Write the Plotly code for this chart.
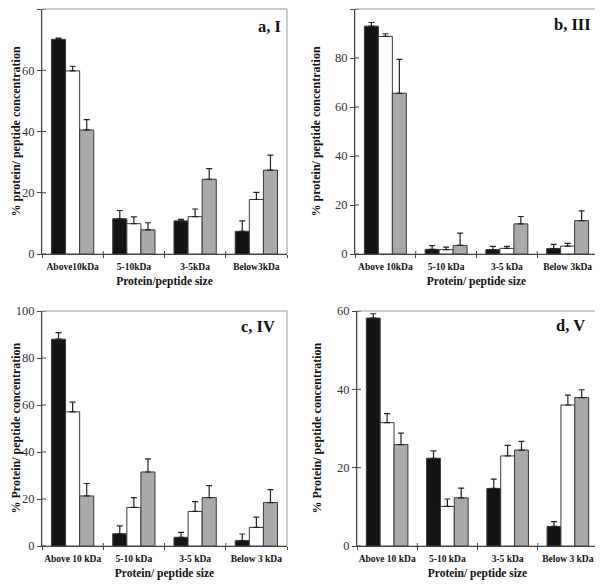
import plotly.graph_objects as go

# ---------------- data ----------------
cats_a = ["Above10kDa", "5-10kDa", "3-5kDa", "Below3kDa"]
cats_b = ["Above 10kDa", "5-10 kDa", "3-5 kDa", "Below 3kDa"]
cats_c = ["Above 10 kDa", "5-10 kDa", "3-5 kDa", "Below 3 kDa"]
cats_d = ["Above 10 kDa", "5-10 kDa", "3-5 kDa", "Below 3 kDa"]

# panel a, I
a_black = [70.1, 11.5, 10.8, 7.4]
a_black_err = [0.4, 2.7, 0.5, 3.4]
a_white = [59.8, 9.9, 12.2, 17.8]
a_white_err = [1.5, 2.2, 2.5, 2.3]
a_gray = [40.5, 7.9, 24.4, 27.4]
a_gray_err = [3.4, 2.3, 3.5, 4.9]

# panel b, III
b_black = [93.0, 1.9, 1.8, 2.2]
b_black_err = [1.5, 1.5, 1.3, 1.7]
b_white = [88.8, 1.8, 2.3, 3.2]
b_white_err = [1.1, 1.0, 0.8, 1.1]
b_gray = [65.6, 3.5, 12.3, 13.6]
b_gray_err = [13.8, 5.0, 3.0, 4.0]

# panel c, IV
c_black = [88.0, 5.2, 3.7, 2.3]
c_black_err = [2.8, 3.4, 2.1, 2.8]
c_white = [57.1, 16.4, 14.7, 7.9]
c_white_err = [4.1, 4.2, 4.2, 4.4]
c_gray = [21.3, 31.5, 20.6, 18.5]
c_gray_err = [5.3, 5.6, 5.1, 5.5]

# panel d, V
d_black = [58.2, 22.4, 14.7, 5.0]
d_black_err = [1.1, 1.9, 2.4, 1.2]
d_white = [31.5, 10.1, 23.0, 36.0]
d_white_err = [2.3, 1.9, 2.7, 2.5]
d_gray = [25.9, 12.3, 24.5, 37.9]
d_gray_err = [2.9, 2.5, 2.2, 2.0]

panel_labels = ["a, I", "b, III", "c, IV", "d, V"]
y_titles = ["% protein/ peptide concentration", "% protein/ peptide concentration",
            "% Protein/ peptide concentration", "% Protein/ peptide concentration"]
x_titles = ["Protein/peptide size", "Protein/ peptide size",
            "Protein/ peptide size", "Protein/ peptide size"]
y_max = [80, 100, 100, 60]
y_step = 20

# ---------------- figure ----------------
SERIF = "Liberation Serif"
fills = ["#141414", "#ffffff", "#a9a9a9"]
outline = "#3a3a3a"
AX = "#444"

panels = [
    (cats_a, [(a_black, a_black_err), (a_white, a_white_err), (a_gray, a_gray_err)]),
    (cats_b, [(b_black, b_black_err), (b_white, b_white_err), (b_gray, b_gray_err)]),
    (cats_c, [(c_black, c_black_err), (c_white, c_white_err), (c_gray, c_gray_err)]),
    (cats_d, [(d_black, d_black_err), (d_white, d_white_err), (d_gray, d_gray_err)]),
]

OFF = 8  # page body margin
W, H = 595, 576
# pixel boxes in the screenshot (left, right, top, bottom)
boxes = [(42, 287, 9, 254), (355, 598, 9, 254), (42, 287, 311, 546), (357, 598, 311, 546)]
ytitle_x = [15, 315, 15, 316]
label_pos = [(0.984, 0.927), (0.978, 0.935), (0.958, 0.936), (0.954, 0.94)]

fig = go.Figure()
layout = dict(
    width=W, height=H,
    margin=dict(l=0, r=0, t=0, b=0),
    paper_bgcolor="white", plot_bgcolor="white",
    barmode="group", bargap=0.31, bargroupgap=0,
    showlegend=False,
    font=dict(family=SERIF, color="#111"),
)
annotations = []
shapes = []

for i, (cats, series) in enumerate(panels):
    n = i + 1
    xa = "x" if n == 1 else f"x{n}"
    ya = "y" if n == 1 else f"y{n}"
    for (vals, errs), col in zip(series, fills):
        fig.add_trace(go.Bar(
            x=cats, y=vals, xaxis=xa, yaxis=ya,
            marker=dict(color=col, line=dict(color=outline, width=1)),
            error_y=dict(type="data", symmetric=False, array=errs,
                         arrayminus=[0] * len(errs), color="#222",
                         thickness=1.2, width=3),
        ))
    l, r, t, b = [v - OFF for v in boxes[i]]
    xk = "xaxis" if n == 1 else f"xaxis{n}"
    yk = "yaxis" if n == 1 else f"yaxis{n}"
    layout[xk] = dict(
        domain=[l / W, r / W], anchor=ya,
        type="category", categoryorder="array", categoryarray=cats,
        showline=True, linecolor=AX, linewidth=1,
        ticks="outside", tickson="boundaries", ticklen=3, tickcolor=AX,
        tickangle=0, automargin=False, ticklabelstandoff=4,
        tickfont=dict(family=SERIF, size=9.5, color="#111", weight="bold"),
        showgrid=False, zeroline=False,
        title=dict(text=x_titles[i], font=dict(family=SERIF, size=11.5, weight="bold"),
                   standoff=5),
        fixedrange=True,
    )
    layout[yk] = dict(
        domain=[1 - b / H, 1 - t / H], anchor=xa,
        range=[0, y_max[i]], dtick=y_step, tick0=0,
        showline=True, linecolor=AX, linewidth=1,
        ticks="outside", ticklen=4, tickcolor=AX, automargin=False,
        tickfont=dict(family=SERIF, size=12.5, color="#333"),
        showgrid=False, zeroline=False,
        fixedrange=True,
    )
    # y-axis title
    annotations.append(dict(text=y_titles[i], textangle=-90, showarrow=False,
                            xref="paper", x=(ytitle_x[i] - OFF) / W, xanchor="center",
                            yref=f"{ya} domain", y=0.5, yanchor="middle",
                            font=dict(family=SERIF, size=12, color="#111", weight="bold")))
    # frame
    shapes.append(dict(type="rect", xref=f"{xa} domain", yref=f"{ya} domain",
                       x0=0, x1=1, y0=0, y1=1, line=dict(color="#999", width=1),
                       layer="below"))
    # inner halves of the crossing tick marks (y axis)
    for v in range(0, y_max[i] + 1, y_step):
        shapes.append(dict(type="line", xref=f"{xa} domain", xsizemode="pixel", xanchor=0,
                           x0=0, x1=4, yref=ya, y0=v, y1=v,
                           line=dict(color=AX, width=1)))
    # inner halves of the crossing tick marks (category boundaries)
    for k in range(1, len(cats)):
        shapes.append(dict(type="line", xref=xa, x0=k - 0.5, x1=k - 0.5,
                           yref=f"{ya} domain", ysizemode="pixel", yanchor=0,
                           y0=0, y1=3, line=dict(color=AX, width=1)))
    lx, ly = label_pos[i]
    annotations.append(dict(text=panel_labels[i], xref=f"{xa} domain", yref=f"{ya} domain",
                            x=lx, y=ly, xanchor="right", yanchor="middle", showarrow=False,
                            font=dict(family=SERIF, size=16.5, color="#111", weight="bold")))

layout["annotations"] = annotations
layout["shapes"] = shapes
fig.update_layout(**layout)
fig.write_html("out.html")
